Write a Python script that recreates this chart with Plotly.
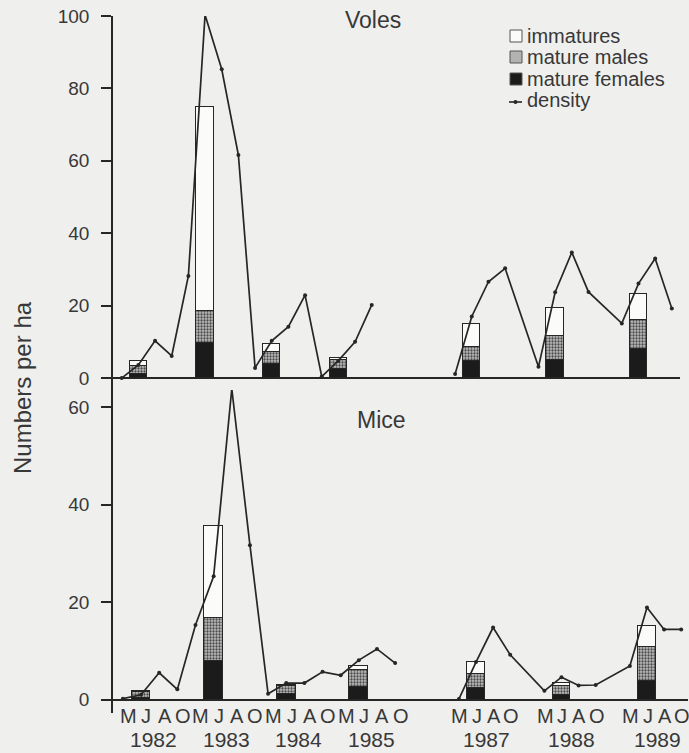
import plotly.graph_objects as go

# ---------------- data ----------------
years_left = [1982, 1983, 1984, 1985]
years_right = [1987, 1988, 1989]
months = ["M", "J", "A", "O"]

# density (numbers per ha), one value per month M J A O of each year
voles_density_left = [0, 3.6, 10.3, 6.1, 28.2, 100.3, 85.3, 61.6,
                      2.8, 10.3, 14.2, 22.9, 0.4, 4.8, 10.0, 20.2]
voles_density_right = [1.1, 17.0, 26.6, 30.3, 3.1, 23.7, 34.7, 23.8,
                       15.1, 26.1, 33.0, 19.2]
mice_density_left = [0.2, 1.0, 5.5, 2.1, 15.3, 25.3, 63.8, 31.7,
                     1.2, 3.4, 3.4, 5.7, 5.0, 8.1, 10.4, 7.5]
mice_density_right = [0.1, 7.7, 14.8, 9.2, 1.8, 4.6, 2.9, 3.0,
                      6.9, 18.9, 14.4, 14.4]

# June composition, years 1982-85, 1987-89
voles_females = [1.2, 9.8, 4.0, 2.6, 4.6, 4.9, 7.9]
voles_males = [2.1, 8.6, 3.2, 2.5, 4.0, 6.7, 8.2]
voles_immatures = [1.3, 56.5, 2.1, 0.4, 6.2, 7.8, 7.2]
mice_females = [0.3, 7.9, 1.2, 2.6, 2.4, 1.0, 3.9]
mice_males = [1.2, 8.8, 1.5, 3.4, 2.8, 1.7, 6.8]
mice_immatures = [0.2, 19.0, 0.4, 0.8, 2.5, 0.7, 4.4]

legend_labels = ["immatures", "mature males", "mature females", "density"]

# ---------------- positions (sampling slots) ----------------
def slot(year, m):
    if year <= 1985:
        return 4 * (year - 1982) + m
    return 20 + 5 * (year - 1987) + m

x_left = [slot(y, m) for y in years_left for m in range(4)]
x_right = [slot(y, m) for y in years_right for m in range(4)]
bar_years = years_left + years_right
bar_x = [slot(y, 1) for y in bar_years]

W, H = 689, 753
FONT = "Liberation Sans, Arial, Helvetica, sans-serif"
INK = "#262626"
TXT = "#383838"
BG = "#efefed"
C_FEM = "#1b1b1b"
C_IMM = "#fbfbfa"
C_MAL = "#b3b3b3"
MAL_PATTERN = dict(shape=".", fgcolor="#4a4a4a", bgcolor="#bdbdbd", size=3, solidity=0.45)


def px(v):
    return v / W


def py(v):
    return 1 - v / H


fig = go.Figure()


def add_panel(xa, ya, xa_r, fem, mal, imm, dl, dr):
    n_left = len(years_left)
    parts = [(slice(0, n_left), xa), (slice(n_left, None), xa_r)]
    for sl, xax in parts:
        bx = bar_x[sl]
        common = dict(x=bx, width=1.04, xaxis=xax, yaxis=ya, showlegend=False,
                      marker_line=dict(color=INK, width=1))
        fig.add_trace(go.Bar(y=fem[sl], name="mature females", marker_color=C_FEM, **common))
        fig.add_trace(go.Bar(y=mal[sl], name="mature males",
                             marker=dict(color=C_MAL, pattern=MAL_PATTERN), **common))
        fig.add_trace(go.Bar(y=imm[sl], name="immatures", marker_color=C_IMM, **common))
    for xs, ys, xax in [(x_left, dl, xa), (x_right, dr, xa_r)]:
        fig.add_trace(go.Scatter(x=xs, y=ys, mode="lines+markers", name="density",
                                 showlegend=False,
                                 line=dict(color=INK, width=1.7),
                                 marker=dict(color=INK, size=4),
                                 xaxis=xax, yaxis=ya, cliponaxis=False))


add_panel("x", "y", "x", voles_females, voles_males, voles_immatures,
          voles_density_left, voles_density_right)
add_panel("x2", "y2", "x3", mice_females, mice_males, mice_immatures,
          mice_density_left, mice_density_right)

xcommon = dict(showline=False, showgrid=False, zeroline=False, ticks="",
               showticklabels=False, fixedrange=True, automargin=False)
ycommon = dict(showline=True, linecolor=INK, linewidth=1.5, showgrid=False,
               zeroline=True, zerolinecolor=INK, zerolinewidth=1.8,
               ticks="outside", ticklen=10, tickwidth=1.5, tickcolor=INK,
               ticklabelstandoff=8, automargin=False, fixedrange=True,
               tickfont=dict(size=19, color=TXT, family=FONT))


def note(text, x, y, size, xref="paper", **kw):
    d = dict(text=text, x=x, y=y, xref=xref, yref="paper", showarrow=False,
             xanchor="center", yanchor="middle",
             font=dict(size=size, color=TXT, family=FONT))
    d.update(kw)
    return d


annotations = [
    note("Voles", px(373), py(20), 23),
    note("Mice", px(381), py(420), 23),
    note("Numbers per ha", px(22), py(388), 24, textangle=-90),
]
for yr in years_left + years_right:
    left = yr <= 1985
    xr = "x2" if left else "x3"
    off = 0.3 if left else 0.05
    for m, lab in enumerate(months):
        annotations.append(note(lab, slot(yr, m) + off, py(716), 20, xref=xr))
    annotations.append(note(str(yr), slot(yr, 0) + (1.7 if left else 1.6), py(739), 21, xref=xr))

# hand-set key (legend) in the upper right of the voles panel
shapes = []
key_rows = [36, 57, 79, 100]
key_fill = [C_IMM, C_MAL, C_FEM]
for lab, yc in zip(legend_labels, key_rows):
    annotations.append(note(lab, px(525), py(yc), 20, xanchor="left"))
for fill, yc in zip(key_fill, key_rows[:3]):
    shapes.append(dict(type="rect", xref="paper", yref="paper",
                       x0=px(510), x1=px(522), y0=py(yc + 6), y1=py(yc - 6),
                       fillcolor=fill, line=dict(color="#555555", width=1)))
shapes.append(dict(type="line", xref="paper", yref="paper",
                   x0=px(509), x1=px(522), y0=py(key_rows[3] + 2), y1=py(key_rows[3] + 2),
                   line=dict(color=INK, width=1.6)))
shapes.append(dict(type="circle", xref="paper", yref="paper",
                   x0=px(513.5), x1=px(517.5), y0=py(key_rows[3] + 4), y1=py(key_rows[3]),
                   fillcolor=INK, line=dict(color=INK, width=0)))

fig.update_layout(
    template="none",
    width=W, height=H, autosize=False,
    margin=dict(l=0, r=0, t=0, b=0, pad=0),
    paper_bgcolor=BG, plot_bgcolor=BG,
    barmode="stack", bargap=0,
    showlegend=False,
    font=dict(family=FONT, color=TXT),
    xaxis=dict(domain=[px(113), px(680)], range=[-0.522, 33.49], anchor="y", **xcommon),
    yaxis=dict(domain=[py(390), py(16)], range=[-3.3, 100], anchor="x",
               tickvals=[0, 20, 40, 60, 80, 100], **ycommon),
    xaxis2=dict(domain=[px(113), px(425)], range=[-0.545, 16.645], anchor="y2", **xcommon),
    xaxis3=dict(domain=[px(425), px(688)], range=[18.018, 33.398], anchor="y2", **xcommon),
    yaxis2=dict(domain=[py(713), py(390)], range=[-2.75, 63.55], anchor="x2",
                tickvals=[0, 20, 40, 60], **ycommon),
    annotations=annotations,
    shapes=shapes,
)

fig.write_html("out.html",
               config={"displayModeBar": False},
               post_script="document.body.style.margin='0';document.body.style.overflow='hidden';")
